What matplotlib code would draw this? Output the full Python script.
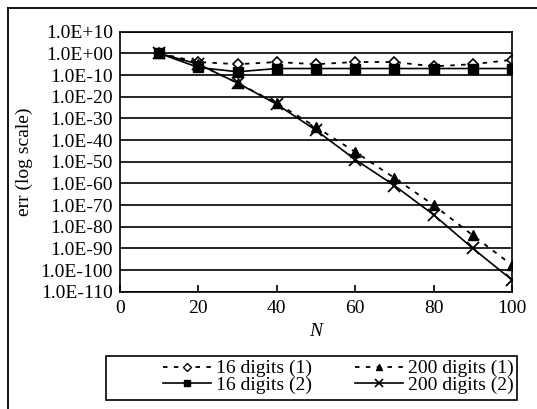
import matplotlib
matplotlib.use('Agg')
import matplotlib.pyplot as plt
from matplotlib.lines import Line2D
from matplotlib.patches import Rectangle

plt.rcParams['font.family'] = ['Liberation Serif', 'DejaVu Serif']
plt.rcParams['font.size'] = 14

# data (log10 of err)
N = [10, 20, 30, 40, 50, 60, 70, 80, 90, 100]
d16_1 = [0, -4, -5, -4, -5, -4, -4, -6, -5, -3]
d16_2 = [0, -6.5, -8.5, -7, -7, -7, -7, -7, -7, -7]
d200_1 = [0, -5, -13.7, -23, -34, -45.5, -57.5, -70, -84, -97.7]
d200_2 = [0, -5, -13.7, -23.5, -35.5, -49, -61, -74.5, -90, -104.6]
ytick_exp = list(range(10, -111, -10))
labels = ['16 digits (1)', '16 digits (2)', '200 digits (1)', '200 digits (2)']

fig = plt.figure(figsize=(5.37, 4.09), dpi=100)
ax = fig.add_axes([0.2235, 0.2868, 0.73, 0.6357])

def pw(v):
    return [10.0 ** x for x in v]

dash = (0, (2.5, 3.5))
ax.plot(N, pw(d16_1), color='black', lw=1.3, ls=dash, marker='D',
        ms=5.5, mfc='white', mec='black', mew=1.2)
ax.plot(N, pw(d16_2), color='black', lw=1.2, ls='-', marker='s',
        ms=6.5, mfc='black', mec='black')
ax.plot(N, pw(d200_1), color='black', lw=1.3, ls=dash, marker='^',
        ms=7, mfc='black', mec='black')
ax.plot(N, pw(d200_2), color='black', lw=1.2, ls='-', marker='x', ms=9, mew=1.3)

ax.set_yscale('log')
ax.set_ylim(1e-110, 1e10)
ax.set_xlim(0, 100)
ax.set_yticks([10.0 ** e for e in ytick_exp])
ax.set_yticklabels(['1.0E%+03d' % e if abs(e) < 100 else '1.0E%+d' % e for e in ytick_exp])
ax.minorticks_off()
ax.set_xticks([0, 20, 40, 60, 80, 100])
ax.tick_params(axis='x', direction='in', length=5, width=1.2, pad=6)
ax.tick_params(axis='y', length=0, pad=5)
ax.grid(axis='y', color='black', lw=1.2)
for s in ax.spines.values():
    s.set_linewidth(1.2)

ax.set_xlabel('N', style='italic', labelpad=4)
ax.set_ylabel('err (log scale)')
ax.yaxis.set_label_coords(-0.222, 0.5)

# legend frame drawn separately, entries placed inside it
fig.add_artist(Rectangle((106 / 537, 1 - 400 / 409), 411 / 537, 44 / 409,
                         transform=fig.transFigure, fill=False, ec='black', lw=1.2))
h1 = Line2D([], [], color='black', lw=1.3, ls=dash, marker='D', ms=4.5, mfc='white', mec='black')
h2 = Line2D([], [], color='black', lw=1.2, ls='-', marker='s', ms=5, mfc='black')
h3 = Line2D([], [], color='black', lw=1.3, ls=dash, marker='^', ms=5, mfc='black')
h4 = Line2D([], [], color='black', lw=1.2, ls='-', marker='x', ms=6, mew=1.2)
fig.legend(handles=[h1, h2, h3, h4], labels=labels, ncol=2, loc='center right',
           bbox_to_anchor=(514 / 537, 1 - 377 / 409), fontsize=14,
           frameon=False, borderpad=0, labelspacing=-0.05, handlelength=2.5,
           handletextpad=0.25, columnspacing=2.2, borderaxespad=0)

# outer frame (top and left edges)
fig.add_artist(Line2D([8 / 537, 8 / 537], [0, 1 - 8 / 409], color='black', lw=1.3))
fig.add_artist(Line2D([8 / 537, 1], [1 - 8 / 409, 1 - 8 / 409], color='black', lw=1.3))

fig.savefig('out.png', dpi=100)
